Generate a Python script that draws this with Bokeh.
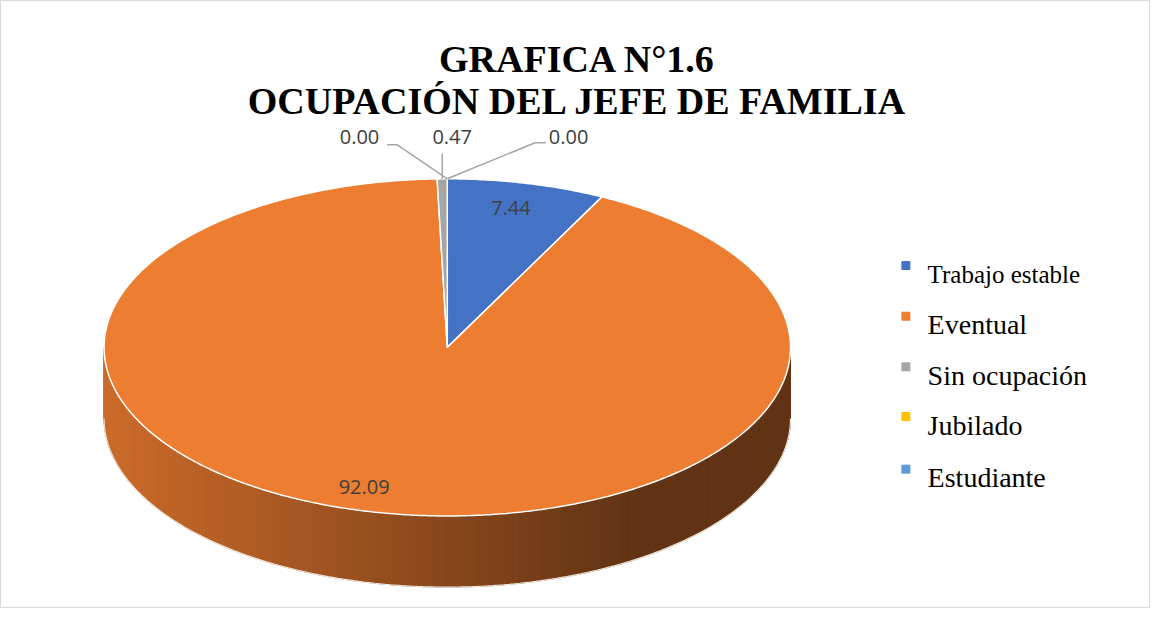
import numpy as np
from bokeh.plotting import figure
from bokeh.models import Range1d
from bokeh.core.properties import value
from bokeh.embed import file_html
from bokeh.resources import INLINE

# ---------------- data ----------------
categories = ["Trabajo estable", "Eventual", "Sin ocupación", "Jubilado", "Estudiante"]
values = [7.44, 92.09, 0.47, 0.00, 0.00]
colors = ["#4472C4", "#ED7D31", "#A5A5A5", "#FFC000", "#5B9BD5"]
title_lines = ["GRAFICA N°1.6", "OCUPACIÓN DEL JEFE DE FAMILIA"]

# ---------------- layout (coordinates in reference-picture units) ----------------
W, H = 1150, 608
VW, VH = 1166, 624
CX, CY, RX, RY, DEPTH = 453, 356, 348, 173, 73

p = figure(width=W, height=H, x_range=Range1d(0, VW), y_range=Range1d(VH, 0),
           x_axis_type=None, y_axis_type=None, output_backend="svg",
           toolbar_location=None, min_border=0)
p.grid.visible = False
p.outline_line_color = "#D9D9D9"
p.background_fill_color = "white"
p.border_fill_color = "white"

total = float(sum(values))
fr = np.array(values) / total
ends = np.cumsum(fr) * 2 * np.pi
starts = ends - fr * 2 * np.pi


def pt(a, r=1.0, dy=0.0):
    return CX + RX * r * np.sin(a), CY - RY * r * np.cos(a) + dy


def hex_to_rgb(h):
    h = h.lstrip("#")
    return tuple(int(h[i:i + 2], 16) for i in (0, 2, 4))


# ---------------- side (front half) with shading ----------------
N = 200
edges = np.linspace(np.pi / 2, 3 * np.pi / 2, N + 1)
sx, sy, sc = [], [], []
for a0, a1 in zip(edges[:-1], edges[1:]):
    mid = (a0 + a1) / 2
    idx = 0
    for i, (s, e) in enumerate(zip(starts, ends)):
        if s <= mid < e:
            idx = i
    t = (np.sin(mid) + 1) / 2
    f = 0.86 - 0.45 * min(1.0, t / 0.78)
    r, g, b = hex_to_rgb(colors[idx])
    col = "#%02x%02x%02x" % (int(r * f), int(g * f), int(b * f))
    arc = np.linspace(a0, a1, 4)
    tx, ty = pt(arc)
    bx, by = pt(arc[::-1], dy=DEPTH)
    sx.append(list(tx) + list(bx))
    sy.append(list(ty) + list(by))
    sc.append(col)
p.patches(sx, sy, fill_color=sc, line_color=sc, line_width=1)

# bottom rim outline
arc = np.linspace(np.pi / 2, 3 * np.pi / 2, 200)
bx, by = pt(arc, dy=DEPTH)
p.line(bx, by, line_color="#EFE3D6", line_width=1.2)

# ---------------- top slices ----------------
xs, ys, fc = [], [], []
for s, e, c in zip(starts, ends, colors):
    if e - s <= 0:
        continue
    a = np.linspace(s, e, max(3, int(np.degrees(e - s) * 2)))
    px, py = pt(a)
    xs.append([CX] + list(px) + [CX])
    ys.append([CY] + list(py) + [CY])
    fc.append(c)
p.patches(xs, ys, fill_color=fc, line_color="#FFFFFF", line_width=1.5)

# ---------------- data labels ----------------
lab_font = value("Open Sans")
big_x, big_y, big_t = [], [], []
label_dx = [-4, -20, 0, 0, 0]
for i, (s, e, v) in enumerate(zip(starts, ends, values)):
    if fr[i] > 0.02:
        x, y = pt((s + e) / 2, r=0.85)
        big_x.append(x + label_dx[i])
        big_y.append(y)
        big_t.append(f"{v:.2f}")
p.text(big_x, big_y, text=big_t, text_font=lab_font, text_font_size=value("20px"),
       text_color="#404040", text_align="center", text_baseline="middle")

# small slices: labels lifted above the rim with leader lines
small = [i for i in range(len(values)) if fr[i] <= 0.02]
small_pos = {2: (458, 140), 3: (364, 140), 4: (576, 140)}
sx_t, sy_t, st = [], [], []
lx, ly = [], []
for i in small:
    x, y = small_pos[i]
    sx_t.append(x)
    sy_t.append(y)
    st.append(f"{values[i]:.2f}")
    rx, ry = pt((starts[i] + ends[i]) / 2)
    if x < CX - 40:
        lx.append([x + 28, x + 38, rx])
        ly.append([y + 8, y + 8, ry])
    elif x > CX + 40:
        lx.append([x - 23, x - 34, rx])
        ly.append([y + 6, y + 6, ry])
    else:
        lx.append([rx, rx])
        ly.append([y + 17, ry])
p.multi_line(lx, ly, line_color="#A5A5A5", line_width=1.5)
p.text(sx_t, sy_t, text=st, text_font=lab_font, text_font_size=value("20px"),
       text_color="#404040", text_align="center", text_baseline="middle")

# ---------------- title ----------------
p.text([585, 585], [60, 103], text=title_lines, text_font=value("Liberation Serif"),
       text_font_style="bold", text_font_size=value("38px"), text_color="#000000",
       text_align="center", text_baseline="alphabetic")

# ---------------- legend ----------------
leg_base = [281, 333, 385, 436, 490]
leg_sizes = ["25px", "28px", "28px", "28px", "28px"]
p.scatter([918] * len(categories), [b - 9 for b in leg_base], marker="square", size=8,
          fill_color=colors, line_color=colors)
for cat, b, fs in zip(categories, leg_base, leg_sizes):
    p.text([940], [b], text=[cat], text_font=value("Liberation Serif"),
           text_font_size=value(fs), text_color="#000000",
           text_align="left", text_baseline="alphabetic")

open("out.html", "w").write(file_html(p, INLINE))
